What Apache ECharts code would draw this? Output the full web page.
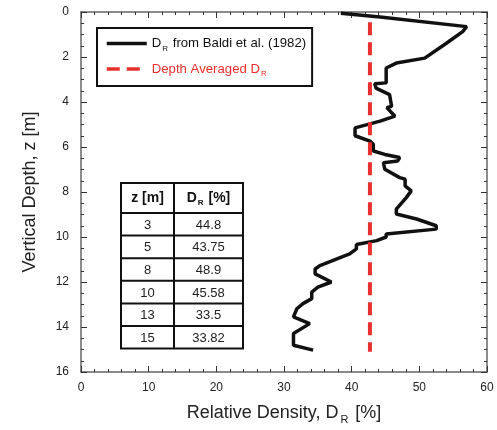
<!DOCTYPE html>
<html>
<head>
<meta charset="UTF-8">
<title></title>
<script src="https://cdn.jsdelivr.net/npm/echarts@6/dist/echarts.min.js"></script>
<style>
  body { margin: 0; }
  #chart { width: 497px; height: 430px; }
</style>
</head>
<body>
<div id="chart"></div>
<script>
// Baldi et al. (1982) profile
var depth = [0.06, 0.22, 0.65, 0.87, 1.39, 2.05, 2.27, 2.49, 3.15, 3.19, 3.38, 3.67, 4.19, 4.25, 4.63, 4.85,
  5.15, 5.5, 5.74, 5.88, 6.18, 6.33, 6.47, 6.62, 6.7, 6.99, 7.36, 7.43, 7.73, 7.95, 8.24, 8.76, 8.98,
  9.2, 9.5, 9.65, 9.87, 10.0, 10.16, 10.33, 10.53, 10.75, 11.27, 11.42, 11.64, 12.0, 12.23, 12.45,
  12.74, 12.96, 13.19, 13.55, 13.85, 14.29, 14.81, 15.03];
var dr = [38.4, 44.2, 57.0, 56.4, 54.0, 50.8, 46.6, 45.1, 45.1, 43.4, 43.6, 45.6, 45.9, 45.2, 46.4, 44.2,
  40.5, 40.5, 42.7, 43.2, 43.2, 44.9, 47.1, 46.8, 44.7, 44.9, 47.1, 47.9, 47.9, 48.8, 48.1, 46.6, 46.6,
  49.6, 52.5, 52.5, 45.1, 45.1, 43.7, 40.7, 40.7, 39.7, 35.3, 34.6, 34.6, 37.0, 35.0, 34.1,
  34.1, 32.8, 31.9, 31.4, 33.8, 31.4, 31.4, 34.3];

var avgDr = 42.7;
var avgDepth = [0.45, 15.1];

// inset table
var tableZ = ['3', '5', '8', '10', '13', '15'];
var tableDr = ['44.8', '43.75', '48.9', '45.58', '33.5', '33.82'];

var font = 'Liberation Sans';
var chart = echarts.init(document.getElementById('chart'));

var profile = [];
for (var i = 0; i < depth.length; i++) {
  profile.push([dr[i], depth[i]]);
}

// table built as graphic elements
var tx = 121, ty = 183, c1 = 53, c2 = 69, hh = 30, rh = 22.6;
var tbl = [];
tbl.push({ type: 'rect', shape: { x: tx, y: ty, width: c1 + c2, height: hh + rh * tableZ.length },
  style: { fill: '#fff', stroke: '#111', lineWidth: 2 } });
tbl.push({ type: 'line', shape: { x1: tx + c1, y1: ty, x2: tx + c1, y2: ty + hh + rh * tableZ.length },
  style: { stroke: '#111', lineWidth: 2 } });
tbl.push({ type: 'line', shape: { x1: tx, y1: ty + hh, x2: tx + c1 + c2, y2: ty + hh },
  style: { stroke: '#111', lineWidth: 2 } });
tbl.push({ type: 'text', x: tx + c1 / 2, y: ty + hh / 2,
  style: { text: 'z [m]', font: 'bold 14px ' + font, fill: '#111', align: 'center', verticalAlign: 'middle' } });
tbl.push({ type: 'text', x: tx + c1 + c2 / 2, y: ty + hh / 2,
  style: { text: '{b|D}{s|R}{b| [%]}', align: 'center', verticalAlign: 'middle',
    rich: { b: { font: 'bold 14px ' + font, fill: '#111' },
            s: { font: 'bold 8px ' + font, fill: '#111', padding: [9, 1, 0, 1] } } } });
for (var r = 0; r < tableZ.length; r++) {
  var yy = ty + hh + rh * r;
  if (r > 0) {
    tbl.push({ type: 'line', shape: { x1: tx, y1: yy, x2: tx + c1 + c2, y2: yy },
      style: { stroke: '#111', lineWidth: 2 } });
  }
  tbl.push({ type: 'text', x: tx + c1 / 2, y: yy + rh / 2 + 1,
    style: { text: tableZ[r], font: '13px ' + font, fill: '#222', align: 'center', verticalAlign: 'middle' } });
  tbl.push({ type: 'text', x: tx + c1 + c2 / 2, y: yy + rh / 2 + 1,
    style: { text: tableDr[r], font: '13px ' + font, fill: '#222', align: 'center', verticalAlign: 'middle' } });
}

var axisLine = { show: true, onZero: false, lineStyle: { color: '#666', width: 1.5 } };
var axisTick = { show: true, inside: true, length: 6, lineStyle: { color: '#333', width: 1 } };
function minor(n) {
  return { show: true, splitNumber: n, length: 3, lineStyle: { color: '#333', width: 1 } };
}

var option = {
  animation: false,
  grid: { left: 81, right: 10, top: 12, bottom: 56 },
  legend: {
    orient: 'vertical',
    left: 97, top: 28,
    padding: [9, 6, 8, 8],
    itemGap: 10,
    itemWidth: 40,
    itemHeight: 12,
    borderColor: '#111',
    borderWidth: 2,
    backgroundColor: '#fff',
    itemStyle: { opacity: 0 },
    data: [
      { name: 'baldi', lineStyle: { width: 3.5 }, textStyle: { rich: {
        a: { fontFamily: font, fontSize: 13.2, color: '#111' },
        s: { fontFamily: font, fontSize: 8, color: '#111', padding: [10, 1, 0, 1] } } } },
      { name: 'avg', lineStyle: { width: 3.5 }, textStyle: { rich: {
        a: { fontFamily: font, fontSize: 13.2, color: '#e8302e' },
        s: { fontFamily: font, fontSize: 8, color: '#e8302e', padding: [10, 0, 0, 1] } } } }
    ],
    formatter: function (name) {
      if (name === 'baldi') return '{a|D}{s|R}{a| from Baldi et al. (1982)}';
      return '{a|Depth Averaged D}{s|R}';
    }
  },
  xAxis: [
    {
      type: 'value', min: 0, max: 60, interval: 10, position: 'bottom',
      axisLine: axisLine, axisTick: axisTick, minorTick: minor(5), splitLine: { show: false },
      name: '{a|Relative Density, D}{s|R}{a| [%]}',
      nameLocation: 'middle', nameGap: 30,
      nameTextStyle: { rich: {
        a: { fontFamily: font, fontSize: 18, color: '#222' },
        s: { fontFamily: font, fontSize: 11, color: '#222', padding: [12, 2, 0, 2] } } },
      axisLabel: { fontFamily: font, fontSize: 12, color: '#222', margin: 10 }
    },
    {
      type: 'value', min: 0, max: 60, interval: 10, position: 'top',
      axisLine: axisLine, axisTick: axisTick, minorTick: minor(5), splitLine: { show: false },
      axisLabel: { show: false }
    }
  ],
  yAxis: [
    {
      type: 'value', min: 0, max: 16, interval: 2, inverse: true, position: 'left',
      axisLine: axisLine, axisTick: axisTick, minorTick: minor(4), splitLine: { show: false },
      name: 'Vertical Depth, z [m]', nameLocation: 'middle', nameGap: 42, nameRotate: 90,
      nameTextStyle: { fontFamily: font, fontSize: 18, color: '#222' },
      axisLabel: { fontFamily: font, fontSize: 12, color: '#222', margin: 12 }
    },
    {
      type: 'value', min: 0, max: 16, interval: 2, inverse: true, position: 'right',
      axisLine: axisLine, axisTick: axisTick, minorTick: minor(4), splitLine: { show: false },
      axisLabel: { show: false }
    }
  ],
  series: [
    {
      name: 'baldi', type: 'line', data: profile, symbol: 'none',
      lineStyle: { color: '#111', width: 3.5 }, itemStyle: { color: '#111' }
    },
    {
      name: 'avg', type: 'line', symbol: 'none',
      data: [[avgDr, avgDepth[0]], [avgDr, avgDepth[1]]],
      lineStyle: { color: '#e8302e', width: 4, type: [13, 7] }, itemStyle: { color: '#e8302e' }
    }
  ],
  graphic: tbl
};

chart.setOption(option);
</script>
</body>
</html>
